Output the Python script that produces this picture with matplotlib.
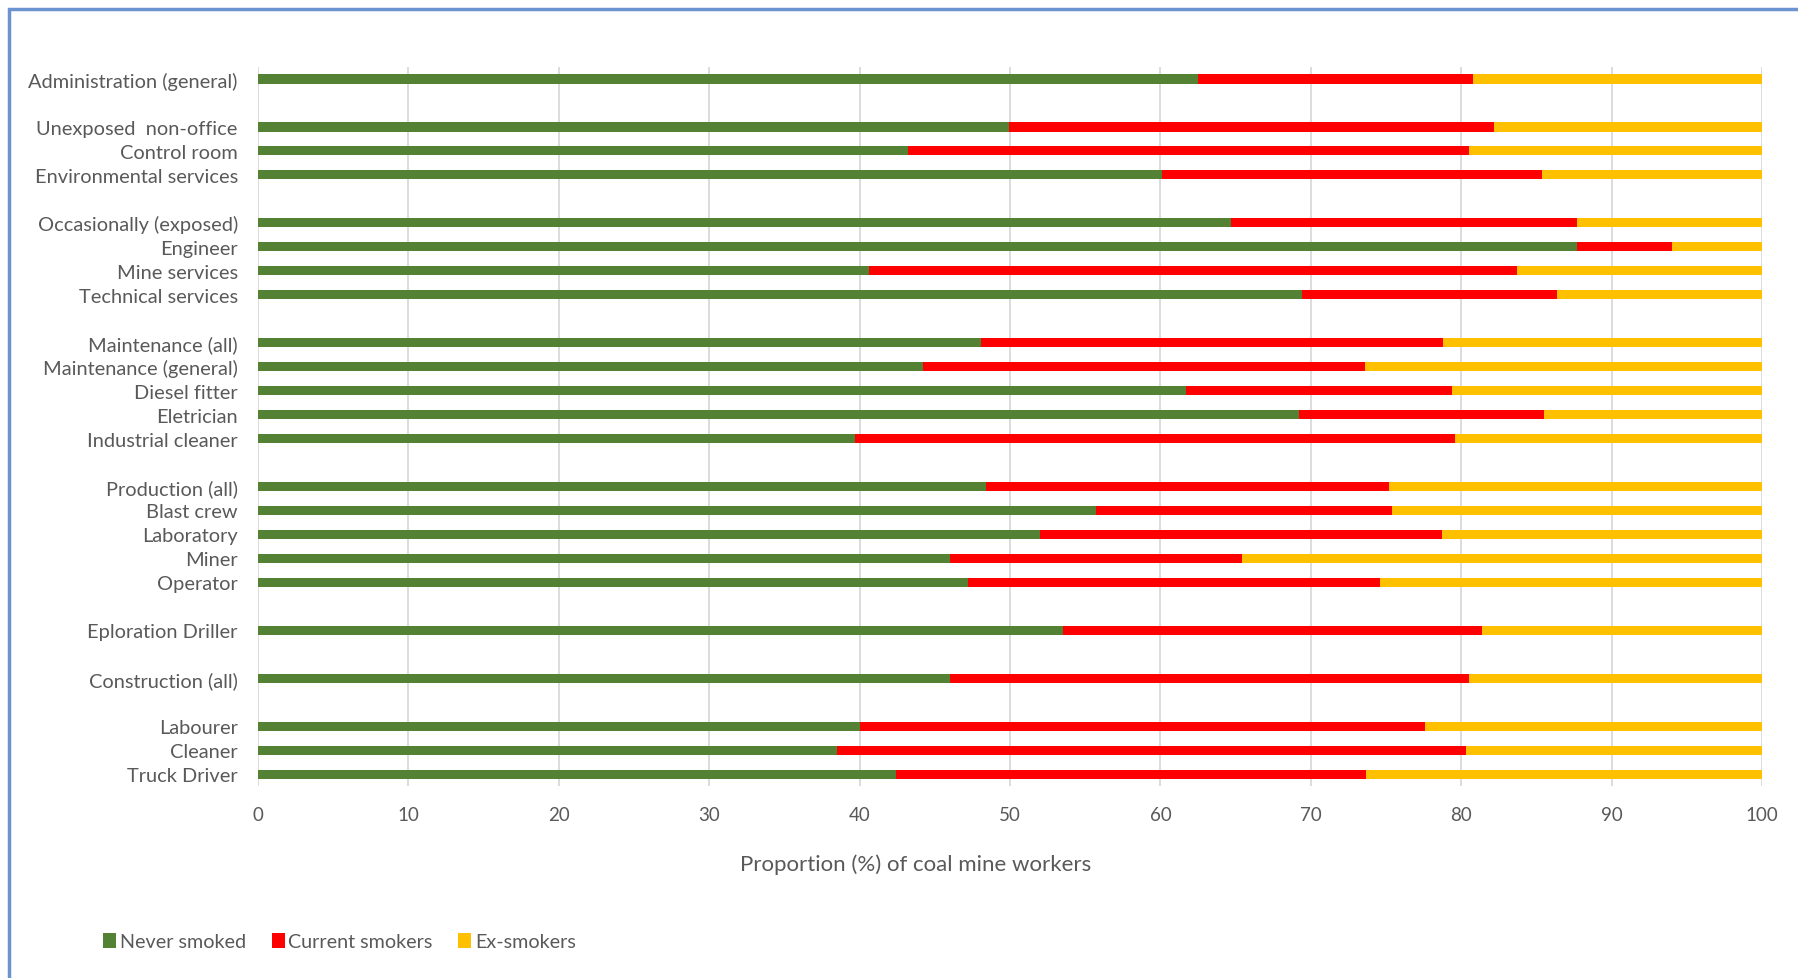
import numpy as np
import matplotlib.pyplot as plt
from matplotlib.patches import Rectangle

plt.rcParams["font.family"] = ["Lato", "DejaVu Sans"]

# Job categories, top to bottom, and how many belong to each group
categories = [
    "Administration (general)",
    "Unexposed  non-office", "Control room", "Environmental services",
    "Occasionally (exposed)", "Engineer", "Mine services", "Technical services",
    "Maintenance (all)", "Maintenance (general)", "Diesel fitter", "Eletrician",
    "Industrial cleaner",
    "Production (all)", "Blast crew", "Laboratory", "Miner", "Operator",
    "Eploration Driller",
    "Construction (all)",
    "Labourer", "Cleaner", "Truck Driver",
]
group_sizes = [1, 3, 4, 5, 5, 1, 1, 3]

never_smoked = [62.5, 49.9, 43.2, 60.1, 64.7, 87.7, 40.6, 69.4, 48.1, 44.2, 61.7,
                69.2, 39.7, 48.4, 55.7, 52.0, 46.0, 47.2, 53.5, 46.0, 40.0, 38.5, 42.4]
current_smokers = [18.3, 32.3, 37.3, 25.3, 23.0, 6.3, 43.1, 17.0, 30.7, 29.4, 17.7,
                   16.3, 39.9, 26.8, 19.7, 26.7, 19.4, 27.4, 27.9, 34.5, 37.6, 41.8, 31.3]
ex_smokers = [19.2, 17.8, 19.5, 14.6, 12.3, 6.0, 16.3, 13.6, 21.2, 26.4, 20.6,
              14.5, 20.4, 24.8, 24.6, 21.3, 34.6, 25.4, 18.6, 19.5, 22.4, 19.7, 26.3]

series_names = ["Never smoked", "Current smokers", "Ex-smokers"]
colors = ["#548235", "#FF0000", "#FFC000"]
text_color = "#595959"

# y slot for each bar, leaving one empty slot between groups
ypos = []
slot = 0
for size in group_sizes:
    for _ in range(size):
        ypos.append(slot)
        slot += 1
    slot += 1
ypos = np.array(ypos)

fig = plt.figure(figsize=(17.98, 9.79), dpi=100)
ax = fig.add_axes([0.1435, 0.196, 0.8365, 0.7345])

left = np.zeros(len(categories))
for vals, name, col in zip([never_smoked, current_smokers, ex_smokers], series_names, colors):
    ax.barh(ypos, vals, left=left, height=0.38, color=col, label=name, zorder=3)
    left += np.array(vals)

ax.set_xlim(0, 100)
ax.set_ylim(ypos[-1] + 0.5, -0.5)
ax.set_xticks(np.arange(0, 101, 10))
ax.set_yticks(ypos)
ax.set_yticklabels(categories)
ax.tick_params(axis="both", length=0, colors=text_color)
ax.tick_params(axis="x", pad=14, labelsize=13.5)
ax.tick_params(axis="y", pad=14.5, labelsize=14.4)
ax.grid(axis="x", color="#D9D9D9", linewidth=1.3, zorder=0)
for sp in ax.spines.values():
    sp.set_visible(False)

fig.text(0.509, 0.117, "Proportion (%) of coal mine workers", ha="center", va="center",
         fontsize=16, color=text_color)

leg = fig.legend(loc="center left", bbox_to_anchor=(0.0475, 0.037), ncol=3, frameon=False,
                 fontsize=14.2, handlelength=0.65, handleheight=0.75, handletextpad=0.2,
                 columnspacing=1.3, labelcolor=text_color)

# blue frame around the chart area
fig.patches.append(Rectangle((9 / 1798, -0.05), 1.2, 1 - 10 / 979 + 0.05,
                             transform=fig.transFigure, fill=False,
                             edgecolor="#6A93CF", linewidth=2.5))

fig.savefig("out.png", dpi=100)
